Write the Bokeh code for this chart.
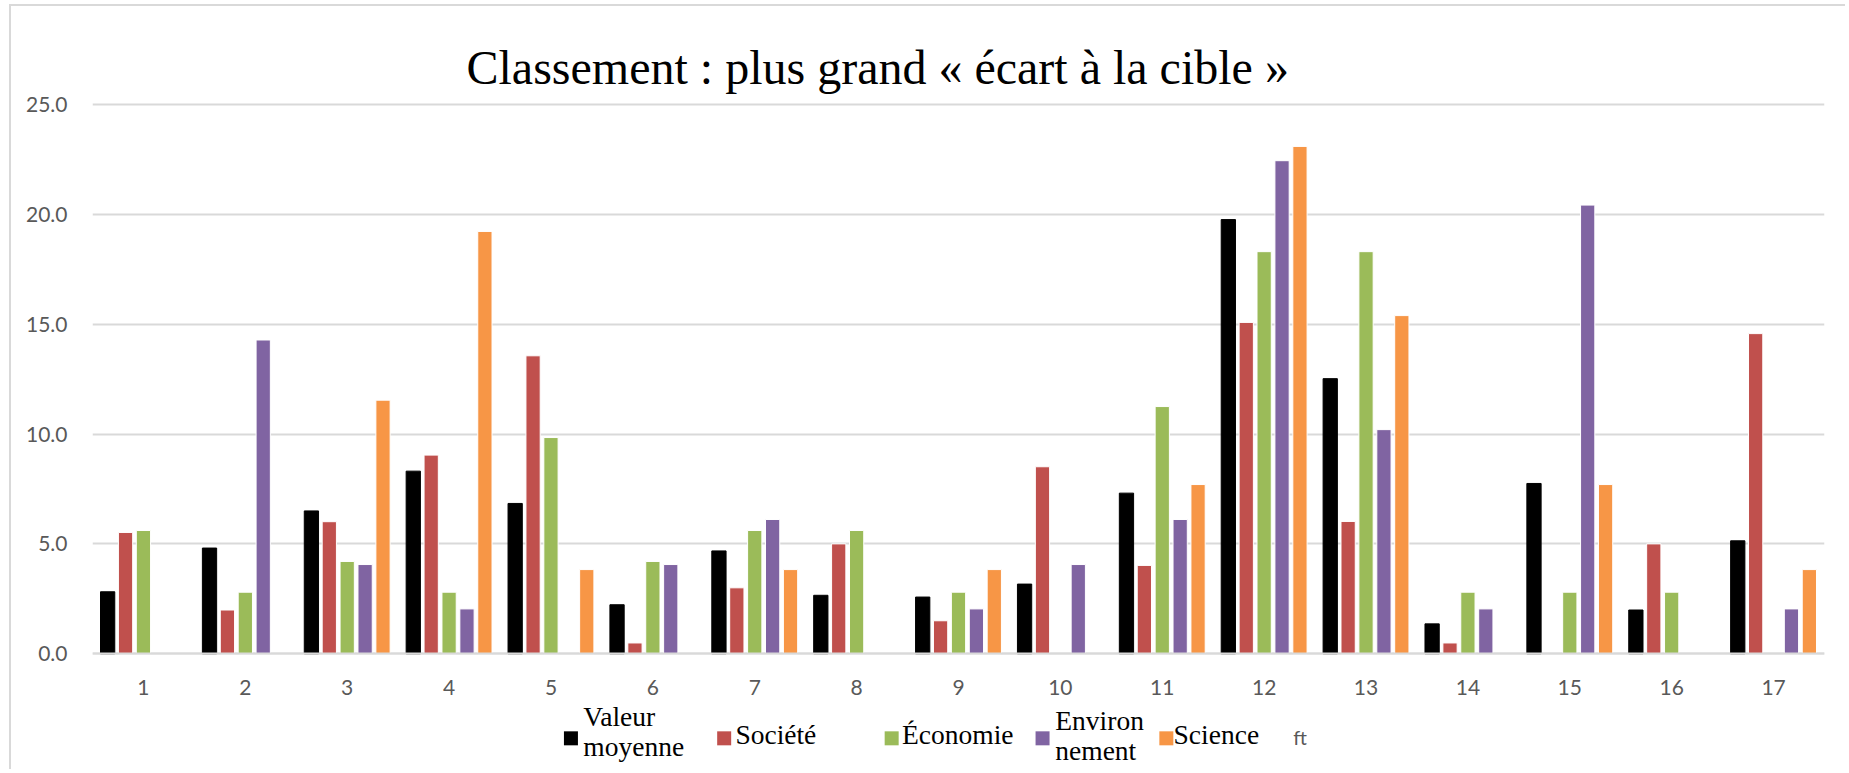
from bokeh.plotting import figure
from bokeh.models import ColumnDataSource, FactorRange, Range1d, FixedTicker, NumeralTickFormatter
from bokeh.transform import dodge
from bokeh.core.properties import value
from bokeh.embed import file_html
from bokeh.resources import INLINE

nan = float("nan")

# ---------------- data ----------------
categories = [str(i) for i in range(1, 18)]
valeur_moyenne = [2.82, 4.81, 6.50, 8.31, 6.84, 2.23, 4.68, 2.66, 2.58, 3.17, 7.31, 19.76, 12.52, 1.36, 7.75, 1.99, 5.14]
societe = [5.52, 1.99, 6.01, 9.04, 13.56, 0.49, 3.00, 5.00, 1.50, 8.51, 4.02, 15.08, 6.02, 0.49, nan, 5.00, 14.57]
economie = [5.61, 2.80, 4.20, 2.80, 9.84, 4.20, 5.61, 5.61, 2.80, nan, 11.25, 18.30, 18.30, 2.80, 2.80, 2.80, nan]
environnement = [nan, 14.28, 4.06, 2.04, nan, 4.06, 6.11, nan, 2.04, 4.06, 6.11, 22.44, 10.20, 2.04, 20.42, nan, 2.04]
science = [nan, nan, 11.54, 19.22, 3.83, nan, 3.83, nan, 3.83, nan, 7.70, 23.09, 15.39, nan, 7.70, nan, 3.83]
series_labels = ["Valeur\nmoyenne", "Société", "Économie", "Environ\nnement", "Science"]
y_ticks = [0, 5, 10, 15, 20, 25]
title_text = "Classement : plus grand « écart à la cible »"
stray_text = "ft"

# ---------------- styles / layout ----------------
colors = ["#000000", "#c0504d", "#9bbb59", "#8064a2", "#f79646"]
outlines = ["#000000", "white", "white", "white", "white"]
SLOT = 0.1757
BAR_W = 0.14
GRID = "#d9d9d9"
LABEL = "#595959"

p = figure(
    width=1836, height=765,
    x_range=FactorRange(*categories, range_padding=0),
    y_range=Range1d(-5.36, 25.18),
    output_backend="svg", toolbar_location=None,
    min_border_left=81, min_border_right=23, min_border_top=94, min_border_bottom=0,
    title=title_text,
)
p.styles = {"margin-left": "9px", "margin-top": "4px",
            "border-top": "2px solid #d9d9d9", "border-left": "2px solid #d9d9d9"}
p.outline_line_color = None
p.background_fill_color = "white"
p.border_fill_color = "white"

p.title.align = "left"
p.title.offset = 374
p.title.standoff = 14
p.title.text_font = "Liberation Serif"
p.title.text_font_size = "48px"
p.title.text_font_style = "normal"
p.title.text_color = "black"

series = [valeur_moyenne, societe, economie, environnement, science]
for i, vals in enumerate(series):
    src = ColumnDataSource(dict(x=categories, top=vals))
    p.vbar(x=dodge("x", (i - 2) * SLOT, range=p.x_range), top="top", bottom=0,
           width=BAR_W, source=src, fill_color=colors[i],
           line_color=outlines[i], line_width=1)

# axes
p.yaxis.ticker = FixedTicker(ticks=y_ticks)
p.yaxis.formatter = NumeralTickFormatter(format="0.0")
p.yaxis.axis_line_color = None
p.yaxis.major_tick_line_color = None
p.yaxis.minor_tick_line_color = None
p.yaxis.major_label_standoff = 19
p.yaxis.major_label_text_font = "Lato"
p.yaxis.major_label_text_font_size = "21px"
p.yaxis.major_label_text_color = LABEL

p.xaxis.fixed_location = 0
p.xaxis.axis_line_color = GRID
p.xaxis.axis_line_width = 2
p.xaxis.major_tick_line_color = None
p.xaxis.minor_tick_line_color = None
p.xaxis.major_label_standoff = 20
p.xaxis.major_label_text_font = "Lato"
p.xaxis.major_label_text_font_size = "21px"
p.xaxis.major_label_text_color = LABEL

p.xgrid.grid_line_color = None
p.ygrid.grid_line_color = GRID
p.ygrid.grid_line_width = 2

# legend drawn below the axis (layout positions in synthetic x units)
leg_sq_x = [4.696, 6.200, 7.844, 9.325, 10.540]
leg_tx_x = [4.818, 6.310, 7.946, 9.450, 10.611]
leg_tx_y = [-3.55, -3.67, -3.67, -3.72, -3.67]
p.scatter(x=leg_sq_x, y=[-3.85] * 5, marker="square", size=14,
          fill_color=colors, line_color=None)
p.text(x=leg_tx_x, y=leg_tx_y, text=series_labels,
       text_font=value("Liberation Serif"), text_font_size="27.5px",
       text_color="black", text_align="left", text_baseline="middle",
       text_line_height=0.98)
p.text(x=[11.786], y=[-3.80], text=[stray_text], text_font=value("Lato"),
       text_font_size="20px", text_color=LABEL, text_align="left",
       text_baseline="middle")

open("out.html", "w").write(file_html(p, INLINE))
